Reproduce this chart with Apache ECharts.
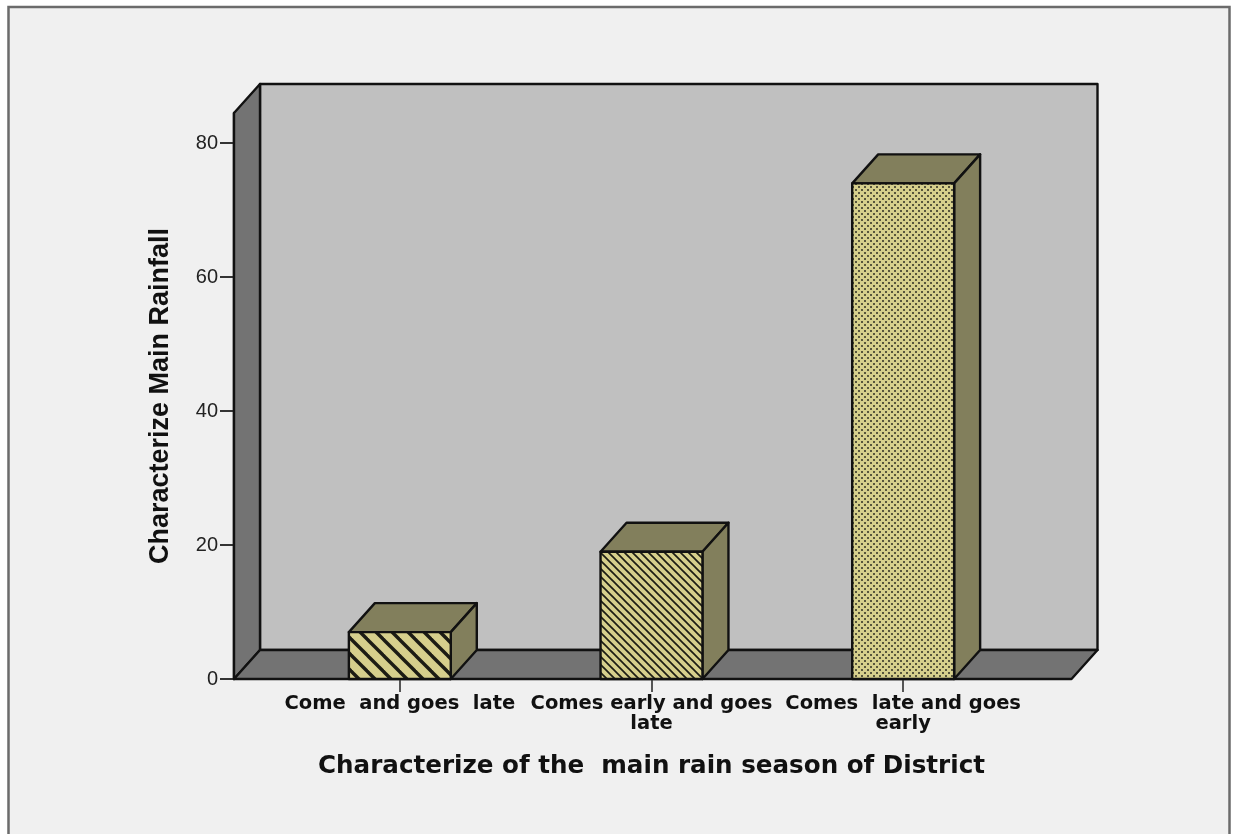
<!DOCTYPE html>
<html><head><meta charset="utf-8">
<style>html,body{margin:0;padding:0;background:#fff}#c{width:1233px;height:834px}</style>
<script src="https://cdn.jsdelivr.net/npm/echarts@6/dist/echarts.min.js"></script>
</head><body><div id="c"></div>
<script>
const categories = ['Come  and goes  late', 'Comes early and goes\nlate', 'Comes  late and goes\nearly'];
const rainfallValues = [7, 19, 74];
const yTicks = [0, 20, 40, 60, 80];
const hatchKinds = ['wide', 'narrow', 'dots'];

const FACE = '#d6cf8c', SIDE = '#827f5c', WALL = '#737373', BACK = '#c0c0c0', INK = '#111';
const DX = 26, DY = -29, OVERHANG_L = 40, OVERHANG_R = 42.5;

function tile(kind) {
  const c = document.createElement('canvas');
  const size = kind === 'wide' ? 16 : kind === 'narrow' ? 8 : 6;
  c.width = c.height = size;
  const g = c.getContext('2d');
  g.fillStyle = FACE; g.fillRect(0, 0, size, size);
  g.strokeStyle = '#1c1c14';
  if (kind === 'dots') {
    g.fillStyle = '#57553c';
    g.fillRect(0, 0, 2, 2); g.fillRect(3, 3, 2, 2);
  } else {
    g.lineWidth = kind === 'wide' ? 3.4 : 1.7;
    for (let i = -2; i <= 2; i++) {
      g.beginPath(); g.moveTo(i * size - size, -size); g.lineTo(i * size + 2 * size, 2 * size); g.stroke();
    }
  }
  return c;
}

const chart = echarts.init(document.getElementById('c'), null, {renderer: 'canvas'});
const lineStyle = {stroke: INK, lineWidth: 2.4, lineJoin: 'round'};

function renderWalls(params, api) {
  const cs = params.coordSys;
  const l = cs.x - OVERHANG_L, r = cs.x + cs.width + OVERHANG_R;
  const t = cs.y, b = cs.y + cs.height;
  const poly = (points, fill) => ({type: 'polygon', shape: {points}, style: {fill, ...lineStyle}});
  return {type: 'group', children: [
    poly([[l + DX, t + DY], [r + DX, t + DY], [r + DX, b + DY], [l + DX, b + DY]], BACK),
    poly([[l, t], [l + DX, t + DY], [l + DX, b + DY], [l, b]], WALL),
    poly([[l, b], [l + DX, b + DY], [r + DX, b + DY], [r, b]], WALL)
  ]};
}

function renderBar(params, api) {
  const i = api.value(0);
  const top = api.coord([i, api.value(1)]);
  const base = api.coord([i, 0]);
  const w = api.size([1, 0])[0] * 0.405;
  const x0 = top[0] - w / 2, x1 = top[0] + w / 2, y0 = top[1], y1 = base[1];
  const poly = (points, fill) => ({type: 'polygon', shape: {points}, style: {fill, ...lineStyle}});
  return {type: 'group', children: [
    poly([[x0, y0], [x0 + DX, y0 + DY], [x1 + DX, y0 + DY], [x1, y0]], SIDE),
    poly([[x1, y0], [x1 + DX, y0 + DY], [x1 + DX, y1 + DY], [x1, y1]], SIDE),
    {type: 'rect', shape: {x: x0, y: y0, width: w, height: y1 - y0},
     style: {fill: {image: tile(hatchKinds[i]), repeat: 'repeat'}, ...lineStyle}}
  ]};
}

chart.setOption({
  animation: false,
  backgroundColor: '#ffffff',
  graphic: [{type: 'rect', z: -10, silent: true,
    shape: {x: 8.5, y: 7, width: 1221, height: 840},
    style: {fill: '#f0f0f0', stroke: '#6b6b6b', lineWidth: 2.5}}],
  grid: {left: 274, top: 113, width: 755, height: 566},
  xAxis: {
    type: 'category', data: categories, z: 1,
    axisLine: {show: false},
    axisTick: {show: true, alignWithLabel: true, length: 13, lineStyle: {color: '#555', width: 2}},
    axisLabel: {interval: 0, margin: 15, fontFamily: 'DejaVu Sans', fontWeight: 'bold',
      fontSize: 19.5, lineHeight: 20, color: '#111', verticalAlign: 'top'},
    name: 'Characterize of the  main rain season of District',
    nameLocation: 'middle', nameGap: 75,
    nameTextStyle: {fontFamily: 'DejaVu Sans', fontWeight: 'bold', fontSize: 24.6, color: '#111'}
  },
  yAxis: {
    type: 'value', min: 0, max: 84.5, offset: 40,
    splitLine: {show: false},
    axisLine: {show: true, lineStyle: {color: INK, width: 2.4}},
    axisTick: {show: true, length: 14, customValues: yTicks, lineStyle: {color: '#333', width: 2}},
    axisLabel: {customValues: yTicks, margin: 16, fontFamily: 'Liberation Sans', fontSize: 20, color: '#222'},
    name: 'Characterize Main Rainfall', nameLocation: 'middle', nameGap: 60,
    nameTextStyle: {fontFamily: 'Liberation Sans', fontWeight: 'bold', fontSize: 27, color: '#111'}
  },
  series: [
    {type: 'custom', name: 'walls', coordinateSystem: 'cartesian2d', z: 1, silent: true,
     data: [[0, 0]], renderItem: renderWalls, clip: false},
    {type: 'custom', name: 'Characterize Main Rainfall', coordinateSystem: 'cartesian2d', z: 3, silent: true,
     data: rainfallValues.map((v, i) => [i, v]), encode: {x: 0, y: 1}, renderItem: renderBar, clip: false}
  ]
});
</script></body></html>
